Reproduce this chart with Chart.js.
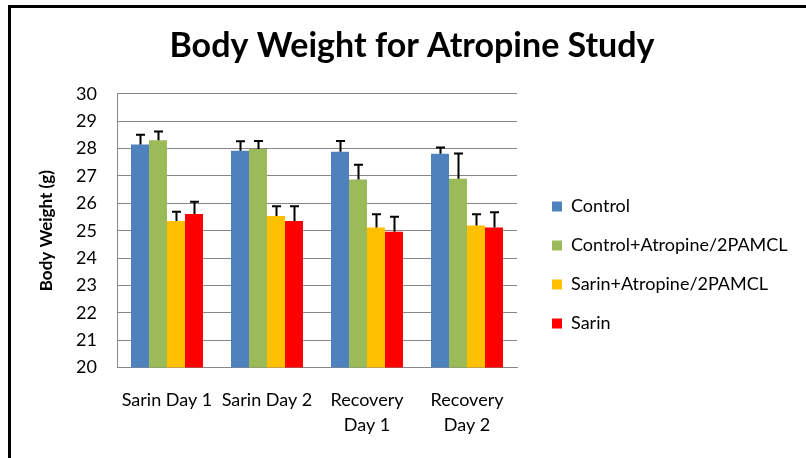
<!DOCTYPE html>
<html>
<head>
<meta charset="utf-8">
<script src="https://cdn.jsdelivr.net/npm/chart.js@4.4.1/dist/chart.umd.min.js"></script>
<style>
  html, body { margin: 0; padding: 0; background: #fff; overflow: hidden; }
  #wrap { position: relative; width: 806px; height: 458px; }
  #frame {
    position: absolute; left: 8px; top: 5px; width: 820px; height: 480px;
    border-left: 3px solid #000; border-top: 3px solid #000;
    pointer-events: none;
  }
  canvas { position: absolute; left: 0; top: 0; }
</style>
</head>
<body>
<div id="wrap">
  <canvas id="chart" width="806" height="458"></canvas>
  <div id="frame"></div>
</div>
<script>
const categories = ['Sarin Day 1', 'Sarin Day 2', ['Recovery', 'Day 1'], ['Recovery', 'Day 2']];
const seriesNames = ['Control', 'Control+Atropine/2PAMCL', 'Sarin+Atropine/2PAMCL', 'Sarin'];

const control = [28.15, 27.92, 27.88, 27.81];
const controlAtropine = [28.3, 27.98, 26.87, 26.9];
const sarinAtropine = [25.35, 25.54, 25.12, 25.19];
const sarin = [25.61, 25.35, 24.96, 25.12];

// standard error (upper bar only)
const controlErr = [0.35, 0.35, 0.4, 0.23];
const controlAtropineErr = [0.32, 0.3, 0.54, 0.92];
const sarinAtropineErr = [0.34, 0.35, 0.48, 0.41];
const sarinErr = [0.45, 0.54, 0.55, 0.55];

const yTicks = [20, 21, 22, 23, 24, 25, 26, 27, 28, 29, 30];

const colors = ['#4F81BD', '#9BBB59', '#FFC000', '#FF0000'];
const values = [control, controlAtropine, sarinAtropine, sarin];
const errors = [controlErr, controlAtropineErr, sarinAtropineErr, sarinErr];

const font = 'Lato';

// draw the error bars from the dataset values through the y scale
const errorBars = {
  id: 'errorBars',
  afterDatasetsDraw(chart) {
    const ctx = chart.ctx;
    const y = chart.scales.y;
    ctx.save();
    ctx.strokeStyle = '#000';
    ctx.lineWidth = 2;
    chart.data.datasets.forEach((ds, i) => {
      const meta = chart.getDatasetMeta(i);
      meta.data.forEach((bar, j) => {
        const top = y.getPixelForValue(ds.data[j] + ds.errors[j]);
        const x = Math.round(bar.x) + 0.5;
        ctx.beginPath();
        ctx.moveTo(x, bar.y);
        ctx.lineTo(x, top);
        ctx.moveTo(x - 4.5, top);
        ctx.lineTo(x + 4.5, top);
        ctx.stroke();
      });
    });
    ctx.restore();
  }
};

// legend sits to the right with a gap, like Excel
const legendPlace = {
  id: 'legendPlace',
  afterInit(chart) {
    const lg = chart.legend;
    const fit = lg.fit.bind(lg);
    lg.fit = function () {
      fit();
      this.width = 289;
    };
  },
  afterLayout(chart) {
    const lg = chart.legend;
    lg.left += 14;
    lg.right += 14;
    lg.top += 36;
    lg.bottom += 36;
  }
};

new Chart(document.getElementById('chart'), {
  type: 'bar',
  data: {
    labels: categories,
    datasets: seriesNames.map((name, i) => ({
      label: name,
      data: values[i],
      errors: errors[i],
      backgroundColor: colors[i],
      borderWidth: 0,
      categoryPercentage: 0.72,
      barPercentage: 1,
    })),
  },
  options: {
    responsive: false,
    animation: false,
    layout: { padding: { left: 18, right: 0, top: 0, bottom: 0 } },
    plugins: {
      title: {
        display: true,
        text: 'Body Weight for Atropine Study',
        color: '#000',
        font: { family: font, size: 34, weight: 'bold' },
        padding: { top: 26, bottom: 27 },
      },
      legend: {
        position: 'right',
        labels: {
          boxWidth: 10,
          boxHeight: 10,
          padding: 21,
          color: '#000',
          font: { family: font, size: 18 },
        },
      },
      tooltip: { enabled: false },
    },
    scales: {
      x: {
        grid: { display: false, drawTicks: false },
        border: { display: true, color: '#868686', width: 1 },
        ticks: {
          color: '#000',
          padding: 20,
          maxRotation: 0,
          autoSkip: false,
          font: { family: font, size: 18, lineHeight: 1.4 },
        },
      },
      y: {
        min: 20,
        max: 30,
        afterBuildTicks(scale) {
          scale.ticks = yTicks.map((v) => ({ value: v }));
        },
        afterFit(scale) {
          scale.width = 99;
        },
        grid: { color: '#868686', drawTicks: false },
        border: { display: true, color: '#868686', width: 1 },
        ticks: {
          color: '#000',
          padding: 20,
          font: { family: font, size: 18 },
        },
        title: {
          display: true,
          text: 'Body Weight (g)',
          color: '#000',
          padding: { top: 18, bottom: 0 },
          font: { family: font, size: 17, weight: 'bold' },
        },
      },
    },
  },
  plugins: [errorBars, legendPlace],
});
</script>
</body>
</html>
